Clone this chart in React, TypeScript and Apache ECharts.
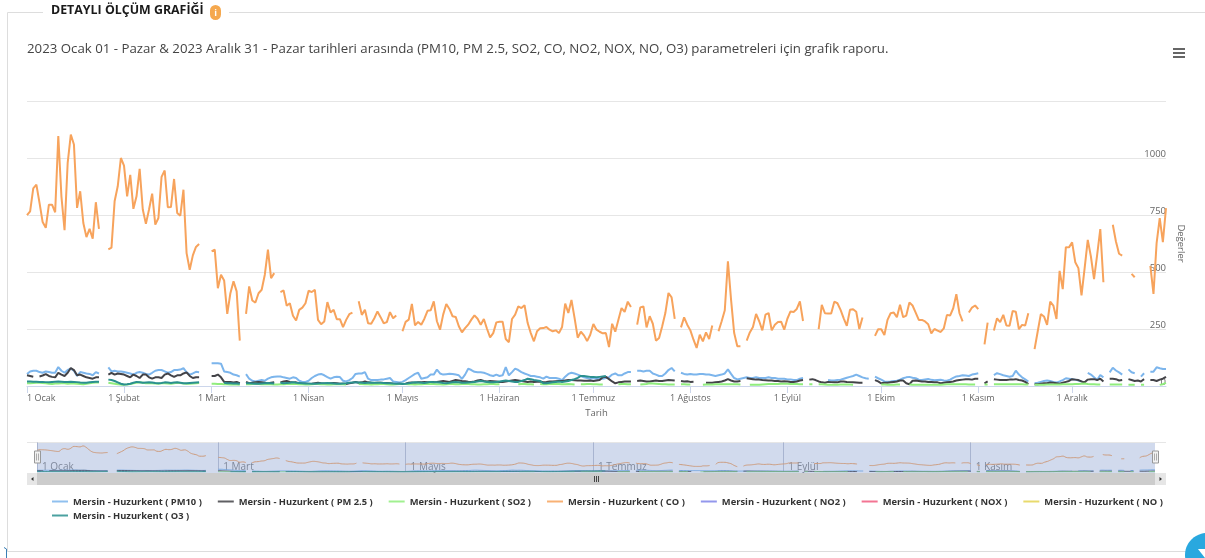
import React, { useEffect, useRef } from "react";
import * as echarts from "echarts";

type Run = [number, number[]];

const monthNames = ["Ocak", "Şubat", "Mart", "Nisan", "Mayıs", "Haziran", "Temmuz", "Ağustos", "Eylül", "Ekim", "Kasım", "Aralık"];
const monthDays = [31, 28, 31, 30, 31, 30, 31, 31, 30, 31, 30, 31];
const yTicks = [0, 250, 500, 750, 1000, 1250];

const names = ["PM10", "PM 2.5", "SO2", "CO", "NO2", "NOX", "NO", "O3"].map((p) => `Mersin - Huzurkent ( ${p} )`);
const colors = ["#7cb5ec", "#434348", "#90ed7d", "#f7a35c", "#8085e9", "#f15c80", "#e4d354", "#2b908f"];

const coRuns: Run[] = [
  [0, [749,766,867,883,803,719,694,795,795,762,1096,832,683,979,1103,1059,781,854,715,653,689,646,806,689]],
  [26, [599,607,810,876,1000,967,832,926,777,832,952,774,711,774,844,708,737,917,945,784,785,908,759,747,861,583,510,573,610,623]],
  [59, [590,598,429,488,463,316,407,459,415,199]],
  [70, [316,437,375,366,407,422,488,598,473,495]],
  [81, [412,419,352,363,308,287,334,344,363,418,412,422,290,271,283,368,322,334,293,293,258,290,315,322]],
  [106, [372,312,334,275,273,297,327,302,275,280,324,297,309]],
  [120, [240,281,291,360,266,281,269,295,330,332,371,284,247,313,360,338,306,303,262,235,254,269,291,310,295,269,294,251,213,232,279,282,282,206,192,294,313,349,342,354,276,232,196,240,253,254,259,247,240,244,232,259,361,320,377,298,212,238,222,197,225,272,247,238,231,232,171,273,238,291,342,325,370,346]],
  [195, [269,345,349,257,306,273,199,211,262,320,408,389,294]],
  [209, [257,301,269,244,203,167,225,196,235,206,265]],
  [221, [240,284,332,547,379,232,174,174]],
  [230, [199,235,259,316,284,244,313,320,244,269,281,282,247,295,327,325,338,371,285]],
  [253, [249,356,319,318,318,370,363,334,297,264,334,337,326,250,300]],
  [271, [220,249,249,224,290,319,322,302,356,302,309,366,353,322,290,290,283,271,231,250,243,237,253,312,309,341,403,319,283]],
  [301, [322,344,353,337]],
  [306, [183,278]],
  [309, [243,297,280,312,265,264,329,326,249,268,265,319]],
  [322, [162,239,315,305,268,370,353,294,505,425,609,608,630,543,517,397,517,641,568,469,575,688,455]],
  [347, [707,634,580,572]],
  [353, [492,477]],
  [359, [527,404,627,736,631,780]],
];

const pm10Runs: Run[] = [
  [0, [53,64,67,67,61,58,64,61,58,58,83,67,58,70,76,67,44,61,58,55,53,47,61,55]],
  [26, [82,64,67,64,64,61,58,55,50,58,61,58,53,50,58,67,70,70,64,58,61,70,70,72,78,60,50,55,62,60]],
  [59, [100,100,100,98,64,61,58,50,47,41]],
  [70, [52,32,23,20,23,26,23,32,38,41,42,42,38,35,32,38,35,23,18,18,23,35,44,50,53,47,39,32,38,41,39,23,20,26,35,53,55,55,61,32,26,26,26,28,29,32,35,20,18,15,18,26,35,44,53,58,32,35,38,50,50,72,55,50,52,54,53,50,47,31,50,76,70,62,60,60,58,53,47,44,50,44,47,83,47,61,76,70,61,55,50,44,44,41,38,32,41,35,35,35,32,26,41,53,58,55,50,44,38,35,32,35,32,32,32,35,38,50,55,47,47,55,61,61]],
  [195, [67,67,64,67,67,55,50,44,44,55,70,79,64]],
  [209, [58,53,50,53,50,50,53,53,50,50,47,44,47,50,55,73,53,35,29,32,35]],
  [230, [38,35,35,38,35,35,35,38,35,35,32,32,32,29,29,26,26,32,35]],
  [256, [26,24,24,26,28,32,36,40,44,50,44,38,34,32]],
  [271, [41,34,28,20,19,20,22,23,28,34,38,40,36,34,28,26,29,31,27,25,26,27,24,23,28,36,42,44,47,46,44,50,53,56]],
  [309, [48,56,52,47,44,41,44,67,50,38,29,19]],
  [322, [12,14,18,22,24,22,18,15,20,26,34,32,30,28,24,20]],
  [339, [58,50,38,26,48,38]],
  [346, [60,80,68,60,50]],
  [352, [73,60,56]],
  [356, [41,56]],
  [359, [63,63,82,78,75,75]],
];

const pm25Runs: Run[] = [
  [0, [47,44,41]],
  [4, [42,46,52,44,40,38,58,50,44,58,79,70,47,50,44,38,35,32,38,38]],
  [26, [50,58,50,55,53,50,44,38,50,44,35,50,50,38,32,38,38,35,50,55,47,40,47,47,55,60,44,35,38,38]],
  [59, [44,44,50,38,18,18,18,15,18,12]],
  [70, [18,12,14,16,18,16,14,12,14,16]],
  [81, [16,20,22,18,15,16,12,10,10,9,10,12,14,12,11,10,12,13,12,10,10,9,12,14,18,14,16,20,16,14,13,14,14,13,13,12,10,9,10,9,10,14,15,14,16,17,18,16,17,17,18,20,22,20,18,22,26,24,22,21,19,18,20,24,26,22,20,22,21,20,18,18,20]],
  [154, [22,24,26,24,22,20,18,20,18,19,20,17,18,20,20,21,22,22,24,26,26,25,24,24,23,23,24,22,24,26,38,40,30,20,12,16,18,20,20,20]],
  [195, [22,24,22,20,20,22,24,22,22,24,26,25,24]],
  [209, [22,20,21,18,19]],
  [217, [14,14,14,16,18,20,24,30,24,20,20,22]],
  [230, [34,32,30,28,28,26,25,24,24,22,22,20,21,20,18,18,20,24,26]],
  [250, [28,30,26,20,16,14,18,17,16,16,20,20,18,17,16,15,14,14]],
  [271, [26,20,12,14,14,16,18,20,24,24,12,8,23,24,22,20,20,18,18,16,16,12,14,16,18,20,24,26,28,30,30,28,32,32]],
  [306, [12,20]],
  [309, [30,28,26,26,26,28,28,30,26,24,18,8]],
  [322, [8,8,10,12,12,15,14,12,10,14,18,22,30,28,26,20,16,28,30,30,26,32,20]],
  [346, [32,32,30,24,26]],
  [352, [30,26,22,24]],
  [356, [20,30]],
  [359, [26,26,22,28,32,40]],
];

const so2Runs: Run[] = [
  [0, [12,12,13,14,14,13,12,10,9,11,11,12,12,10,11,11,10,9,8,10,12,14,15,15]],
  [26, [14,12,10,8,6,6,7,9,12,14,16,14,12,12,12,11,10,12,12,11,10,12,14,13,11,10,10,11,12,13]],
  [59, [10,10,9,9,8,8,7,7,7,6]],
  [70, [8,8,9,10,9,8,8,9,8,7,7,8,8,9,9,10,9,8,8,7,7,8,9,9,8,8,7,7,8,9,8,8,7]],
  [106, [9,9,8,8,7,8,8,9,9,8,7,7,8,9,10,9,8,8,7,8,8,9,10,9,9,8,8,7,8,9,9,8,8,9,10,9,8,8,7,7,8,8,9,9,8,8]],
  [157, [8,9,9,8,8,7]],
  [164, [9,8,8,9,9,10,9,8,8,9,8,7]],
  [177, [8,8,9,9,8,8,7,7]],
  [189, [8,9,9,8,8]],
  [196, [7,8,9,12,11,10,9,8,8,7,7,7]],
  [209, [8,8,7,7]],
  [216, [6,7,7,7,8]],
  [220, [8,8,8,8,8,8,8,8,7]],
  [231, [5,6,6,5,7,8,9,9,9,9,10,10,10,9,9,9,8,8]],
  [250, [8,8]],
  [253, [8,8,7,6,6,6,6,7,7,7,7,6]],
  [273, [7,7,6,6,6,7,7]],
  [282, [7,6,5,5,5,5,6,6,6,6,6,7,8,8,8,8,8,8,8,7,7,7]],
  [306, [7,7]],
  [309, [8,8,8,8,8,8,8,8,8,8,7,7]],
  [322, [6,6,6,6,7,7,7,7,7,8,8,8,8,9,9,10,11,9,8,8,7,7]],
  [346, [7,7,7,7,7]],
  [352, [6,6,6]],
  [356, [6,6]],
  [362, [5,8,14]],
];

const o3Runs: Run[] = [
  [0, [20,20,19,19,18,18,17,16,18,19,20,19,18,18,19,18,17,15,14,14,16,18,19,19]],
  [26, [28,26,22,16,10,7,8,10,14,18,16,14,15,16,15,13,12,13,16,15,13,15,16,14,12,12,13,14,15,16]],
  [63, [14,12,12,11,11,10]],
  [70, [12,12,11,10,10,11,12,13,12,11]],
  [81, [14,12,13,14,16,14,13,12,11,11,10,10,11,12,12,13,12,11,10,10,11,12,14,15,16,15,14,13,14,15,14,14,14,13,12,12,11,10,10,9,10,12,14,16,15,14,13,15,18,16,16,15,13,12,14,16,18,16,14,14,15,16,18,20,22,20,18,16,16,18,20,22,24,22,20,18,18,22,26,32,30,26,24,22]],
  [165, [12,12,14,16,18,20,18,20,22,26,30,36,44,44,42,40,40,38,40,42,44]],
];

const no2Runs: Run[] = [];
const noxRuns: Run[] = [];
const noRuns: Run[] = [];

const categories: string[] = [];
monthNames.forEach((m, i) => {
  for (let d = 1; d <= monthDays[i]; d++) categories.push(`${d} ${m}`);
});
const isFirst = (label: string) => label.startsWith("1 ");
const firstIndexes = categories.map((c, i) => (isFirst(c) ? i : -1)).filter((i) => i >= 0);
const navIndexes = firstIndexes.filter((_, i) => i % 2 === 0);

const build = (runs: Run[]) => {
  const a: (number | null)[] = categories.map(() => null);
  runs.forEach(([s, v]) => v.forEach((x, i) => { if (s + i < a.length) a[s + i] = x; }));
  return a;
};
// the navigator shows a grouped view of the same readings
const grouped = (a: (number | null)[]) =>
  a.map((v, i) => {
    if (v === null) return null;
    const w = a.slice(Math.max(0, i - 2), i + 3).filter((x) => x !== null) as number[];
    return w.reduce((p, c) => p + c, 0) / w.length;
  });

const allRuns = [pm10Runs, pm25Runs, so2Runs, coRuns, no2Runs, noxRuns, noRuns, o3Runs];
const seriesValues = allRuns.map(build);

const FONT = '"Open Sans", sans-serif';

export default function App() {
  const ref = useRef<HTMLDivElement>(null);
  useEffect(() => {
    document.body.style.margin = "0";
    const chart = echarts.init(ref.current!, undefined, { renderer: "svg" });
    const legendCommon = {
      icon: "rect",
      itemWidth: 16,
      itemHeight: 2,
      itemGap: 16,
      orient: "horizontal",
      textStyle: { fontFamily: FONT, fontSize: 9.35, fontWeight: "bold", color: "#333" },
      itemStyle: { opacity: 0.85 },
    };
    chart.setOption({
      animation: false,
      textStyle: { fontFamily: FONT },
      grid: [
        { left: 27, right: 39, top: 101, bottom: 172 },
        { left: 37, right: 50, top: 442, height: 30 },
      ],
      legend: [
        { ...legendCommon, left: 47, top: 492, width: 1150, data: names.slice(0, 7) },
        { ...legendCommon, left: 47, top: 506, data: names.slice(7) },
      ],
      xAxis: [
        {
          type: "category",
          gridIndex: 0,
          data: categories,
          boundaryGap: false,
          name: "Tarih",
          nameLocation: "middle",
          nameGap: 21,
          nameTextStyle: { fontSize: 9.5, color: "#666" },
          axisLine: { lineStyle: { color: "#ccd6eb" } },
          axisTick: { length: 7, lineStyle: { color: "#ccd6eb" }, interval: (i: number) => firstIndexes.includes(i) },
          axisLabel: {
            interval: (i: number) => firstIndexes.includes(i),
            formatter: (v: string) => (isFirst(v) ? v : ""),
            color: "#666",
            fontSize: 9,
            margin: 7,
            alignMinLabel: "left",
            showMinLabel: true,
            hideOverlap: false,
          },
          splitLine: { show: false },
        },
        {
          type: "category",
          gridIndex: 1,
          data: categories,
          boundaryGap: false,
          axisLine: { show: false },
          axisTick: { show: false },
          axisLabel: {
            inside: true,
            align: "left",
            padding: [0, 0, 0, 5],
            interval: (i: number) => navIndexes.includes(i),
            formatter: (v: string) => (isFirst(v) ? v : ""),
            color: "#888",
            fontSize: 10,
            margin: 1,
            alignMinLabel: "left",
          },
          splitLine: { show: true, interval: (i: number) => navIndexes.includes(i), lineStyle: { color: "#c4c9d6" } },
        },
      ],
      yAxis: [
        {
          type: "value",
          gridIndex: 0,
          position: "right",
          min: yTicks[0],
          max: yTicks[yTicks.length - 1],
          interval: 250,
          name: "Değerler",
          nameLocation: "middle",
          nameRotate: -90,
          nameGap: 8,
          nameTextStyle: { fontSize: 9.5, color: "#666" },
          axisLine: { show: false },
          axisTick: { show: false },
          axisLabel: {
            inside: true,
            margin: 0,
            verticalAlign: "bottom",
            formatter: (v: number) => String(v),
            color: "#666",
            fontSize: 9.5,
            showMaxLabel: false,
          },
          splitLine: { lineStyle: { color: "#e6e6e6" } },
        },
        {
          type: "value",
          gridIndex: 1,
          min: 0,
          max: 1100,
          show: false,
        },
      ],
      series: [
        ...seriesValues.map((data, i) => ({
          name: names[i],
          type: "line",
          xAxisIndex: 0,
          yAxisIndex: 0,
          data,
          showSymbol: false,
          connectNulls: false,
          color: colors[i],
          lineStyle: { width: 2, color: colors[i] },
          silent: true,
        })),
        ...seriesValues.map((data, i) => ({
          name: names[i],
          type: "line",
          xAxisIndex: 1,
          yAxisIndex: 1,
          data: grouped(data),
          showSymbol: false,
          connectNulls: false,
          smooth: true,
          color: colors[i],
          lineStyle: { width: 1, color: colors[i] },
          silent: true,
        })),
      ],
      graphic: [
        // panel frame
        { type: "line", z: 1, shape: { x1: 7.5, y1: 12.5, x2: 43, y2: 12.5 }, style: { stroke: "#ddd" } },
        { type: "line", z: 1, shape: { x1: 229, y1: 12.5, x2: 1205, y2: 12.5 }, style: { stroke: "#ddd" } },
        { type: "line", z: 1, shape: { x1: 7.5, y1: 12.5, x2: 7.5, y2: 551.5 }, style: { stroke: "#ddd" } },
        { type: "line", z: 1, shape: { x1: 7.5, y1: 551.5, x2: 1205, y2: 551.5 }, style: { stroke: "#ddd" } },
        { type: "text", x: 51, y: 3, style: { text: "DETAYLI ÖLÇÜM GRAFİĞİ", font: `bold 12.4px ${FONT}`, fill: "#1a1a1a" } },
        { type: "rect", shape: { x: 210, y: 5, width: 11, height: 15, r: 5.5 }, style: { fill: "#f5a84e" } },
        { type: "text", x: 215.5, y: 12.5, style: { text: "i", font: `bold 9px ${FONT}`, fill: "#fff", align: "center", verticalAlign: "middle" } },
        {
          type: "text",
          x: 27,
          y: 48,
          style: {
            text: "2023 Ocak 01 - Pazar & 2023 Aralık 31 - Pazar tarihleri arasında (PM10, PM 2.5, SO2, CO, NO2, NOX, NO, O3) parametreleri için grafik raporu.",
            font: `13.25px ${FONT}`,
            fill: "#444",
            verticalAlign: "middle",
          },
        },
        // export menu
        { type: "rect", shape: { x: 1173, y: 48, width: 12, height: 2 }, style: { fill: "#666" } },
        { type: "rect", shape: { x: 1173, y: 52, width: 12, height: 2 }, style: { fill: "#666" } },
        { type: "rect", shape: { x: 1173, y: 56, width: 12, height: 2 }, style: { fill: "#666" } },
        // navigator
        { type: "line", shape: { x1: 27, y1: 442.5, x2: 1166, y2: 442.5 }, style: { stroke: "#e6e6e6" } },
        { type: "rect", z: 50, shape: { x: 37, y: 443, width: 1118, height: 30 }, style: { fill: "rgba(102,133,194,0.3)" } },
        { type: "rect", z: 51, shape: { x: 34.5, y: 451, width: 6, height: 12 }, style: { fill: "#f2f2f2", stroke: "#999" } },
        { type: "rect", z: 51, shape: { x: 1152.5, y: 451, width: 6, height: 12 }, style: { fill: "#f2f2f2", stroke: "#999" } },
        { type: "rect", z: 52, shape: { x: 36.5, y: 453.5, width: 0.5, height: 7 }, style: { fill: "#666" } },
        { type: "rect", z: 52, shape: { x: 38.5, y: 453.5, width: 0.5, height: 7 }, style: { fill: "#666" } },
        { type: "rect", z: 52, shape: { x: 1154.5, y: 453.5, width: 0.5, height: 7 }, style: { fill: "#666" } },
        { type: "rect", z: 52, shape: { x: 1156.5, y: 453.5, width: 0.5, height: 7 }, style: { fill: "#666" } },
        // scrollbar
        { type: "rect", z: 50, shape: { x: 27, y: 473, width: 1139, height: 12 }, style: { fill: "#cccccc" } },
        { type: "rect", z: 51, shape: { x: 27, y: 473, width: 10, height: 12 }, style: { fill: "#e6e6e6" } },
        { type: "rect", z: 51, shape: { x: 1155, y: 473, width: 11, height: 12 }, style: { fill: "#e6e6e6" } },
        { type: "polygon", z: 52, shape: { points: [[33.5, 477], [33.5, 481], [31, 479]] }, style: { fill: "#333" } },
        { type: "polygon", z: 52, shape: { points: [[1159.5, 477], [1159.5, 481], [1162, 479]] }, style: { fill: "#333" } },
        { type: "rect", z: 52, shape: { x: 594, y: 476, width: 1, height: 6 }, style: { fill: "#444" } },
        { type: "rect", z: 52, shape: { x: 596, y: 476, width: 1, height: 6 }, style: { fill: "#444" } },
        { type: "rect", z: 52, shape: { x: 598, y: 476, width: 1, height: 6 }, style: { fill: "#444" } },
        // page decorations
        { type: "circle", z: 60, shape: { cx: 1207, cy: 555, r: 22 }, style: { fill: "#29a8df" } },
        { type: "polygon", z: 61, shape: { points: [[1198, 549], [1205, 549], [1205, 558]] }, style: { fill: "#fff" } },
        { type: "line", z: 60, shape: { x1: 4, y1: 547.5, x2: 6.5, y2: 549 }, style: { stroke: "#3a7fb5" } },
        { type: "line", z: 60, shape: { x1: 6.5, y1: 549, x2: 6.5, y2: 558 }, style: { stroke: "#3a7fb5" } },
      ],
    });
    return () => chart.dispose();
  }, []);
  return <div ref={ref} style={{ position: "fixed", left: 0, top: 0, width: 1205, height: 558 }} />;
}
